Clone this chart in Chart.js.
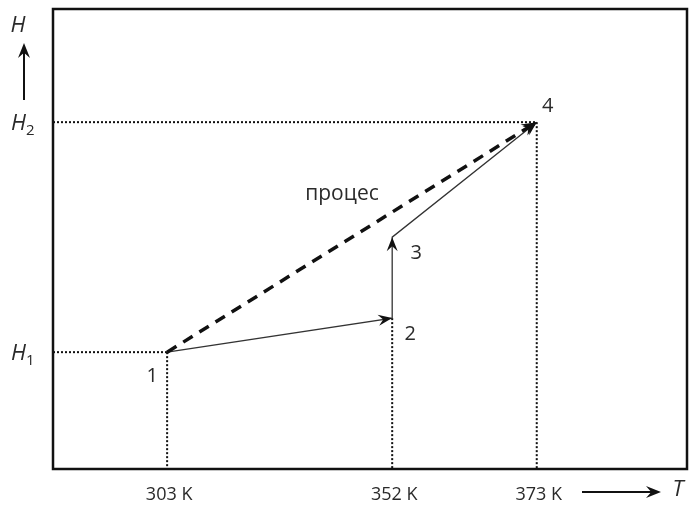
<!DOCTYPE html>
<html>
<head>
<meta charset="utf-8">
<script src="https://cdn.jsdelivr.net/npm/chart.js@4"></script>
<style>
  body { margin: 0; background: #fff; }
  #wrap { width: 689px; height: 507px; }
</style>
</head>
<body>
<div id="wrap"><canvas id="hChart"></canvas></div>
<script>
// --- Data (x, y as share of the frame, 0..100) ---
const pointNames = ["1", "2", "3", "4"];
const pointX = [18.0, 53.5, 53.5, 76.3];
const pointY = [25.4, 32.8, 50.4, 75.4];
const tickLabels = ["303 K", "352 K", "373 K"];
const tickX = [18.0, 53.5, 76.3];
const levelLabels = ["1", "2"];           // H1, H2
const levelY = [25.4, 75.4];

const FONT = "'Open Sans', sans-serif";

const pts = pointX.map((x, i) => ({ x, y: pointY[i] }));

// --- Arrow head helper ---
function arrowHead(c, x0, y0, x1, y1, len, wid) {
  const a = Math.atan2(y1 - y0, x1 - x0);
  c.save();
  c.translate(x1, y1);
  c.rotate(a);
  c.beginPath();
  c.moveTo(0, 0);
  c.lineTo(-len, -wid);
  c.lineTo(-len * 0.65, 0);
  c.lineTo(-len, wid);
  c.closePath();
  c.fillStyle = "#111";
  c.fill();
  c.restore();
}

// --- Frame, guides, labels ---
const decor = {
  id: "decor",
  beforeDatasetsDraw(chart) {
    const c = chart.ctx, xs = chart.scales.x, ys = chart.scales.y;
    c.save();
    c.strokeStyle = "#111";
    c.lineWidth = 2;
    c.setLineDash([2, 2]);
    // dotted guides
    const g = [
      [xs.min, levelY[0], pointX[0], levelY[0]],
      [pointX[0], pointY[0], pointX[0], ys.min],
      [pointX[1], pointY[1], pointX[1], ys.min],
      [xs.min, levelY[1], pointX[3], levelY[1]],
      [pointX[3], pointY[3], pointX[3], ys.min]
    ];
    g.forEach(([x0, y0, x1, y1]) => {
      c.beginPath();
      c.moveTo(xs.getPixelForValue(x0), ys.getPixelForValue(y0));
      c.lineTo(xs.getPixelForValue(x1), ys.getPixelForValue(y1));
      c.stroke();
    });
    c.restore();
  },
  afterDatasetsDraw(chart) {
    const c = chart.ctx, xs = chart.scales.x, ys = chart.scales.y;
    const a = chart.chartArea;
    const px = i => xs.getPixelForValue(pointX[i]);
    const py = i => ys.getPixelForValue(pointY[i]);

    // frame
    c.save();
    c.strokeStyle = "#111";
    c.lineWidth = 2.5;
    c.strokeRect(a.left, a.top, a.right - a.left, a.bottom - a.top);

    // arrow heads at 2, 3, 4
    arrowHead(c, px(0), py(0), px(1), py(1), 14, 5.5);
    arrowHead(c, px(1), py(1), px(2), py(2), 14, 5.5);
    arrowHead(c, px(2), py(2), px(3), py(3), 14, 5.5);
    arrowHead(c, px(0), py(0), px(3), py(3), 15, 6.5);

    // point numbers
    c.fillStyle = "#2a2a2a";
    c.font = "20px " + FONT;
    c.textAlign = "center";
    c.textBaseline = "middle";
    const off = [[-15, 24], [18, 16], [24, 16], [11, -16]];
    pointNames.forEach((n, i) => c.fillText(n, px(i) + off[i][0], py(i) + off[i][1]));

    // process label
    c.font = "21px " + FONT;
    c.fillText("процес", 342, 194);

    // x ticks
    c.font = "18px " + FONT;
    tickLabels.forEach((t, i) => c.fillText(t, xs.getPixelForValue(tickX[i]) + 2, 495));

    // y level labels H1 / H2
    levelLabels.forEach((s, i) => {
      const y = ys.getPixelForValue(levelY[i]);
      c.font = "italic 22px " + FONT;
      c.textAlign = "right";
      c.fillText("H", 26, y + 2);
      c.font = "15px " + FONT;
      c.textAlign = "left";
      c.fillText(s, 26, y + 9);
    });

    // axis name H with arrow
    c.font = "italic 22px " + FONT;
    c.textAlign = "center";
    c.fillText("H", 18, 26);
    c.strokeStyle = "#111";
    c.lineWidth = 2;
    c.beginPath();
    c.moveTo(24, 100);
    c.lineTo(24, 52);
    c.stroke();
    arrowHead(c, 24, 100, 24, 43, 15, 6);

    // axis name T with arrow
    c.beginPath();
    c.moveTo(582, 492);
    c.lineTo(652, 492);
    c.stroke();
    arrowHead(c, 582, 492, 661, 492, 15, 6);
    c.fillText("T", 678, 490);
    c.restore();
  }
};

// --- Chart.js setup ---
const ctx = document.getElementById("hChart").getContext("2d");
new Chart(ctx, {
  type: "scatter",
  data: {
    datasets: [
      {
        // actual process (dashed)
        data: [pts[0], pts[3]],
        showLine: true,
        borderColor: "#111",
        borderWidth: 3.5,
        borderDash: [11, 8],
        pointRadius: 0
      },
      {
        // path 1-2-3-4
        data: pts,
        showLine: true,
        borderColor: "#333",
        borderWidth: 1.3,
        pointRadius: 0
      }
    ]
  },
  options: {
    responsive: true,
    maintainAspectRatio: false,
    animation: false,
    layout: { padding: { left: 53, top: 9, right: 2, bottom: 38 } },
    plugins: { legend: { display: false }, tooltip: { enabled: false } },
    scales: {
      x: { type: "linear", min: 0, max: 100, display: false },
      y: { type: "linear", min: 0, max: 100, display: false }
    }
  },
  plugins: [decor]
});
</script>
</body>
</html>
